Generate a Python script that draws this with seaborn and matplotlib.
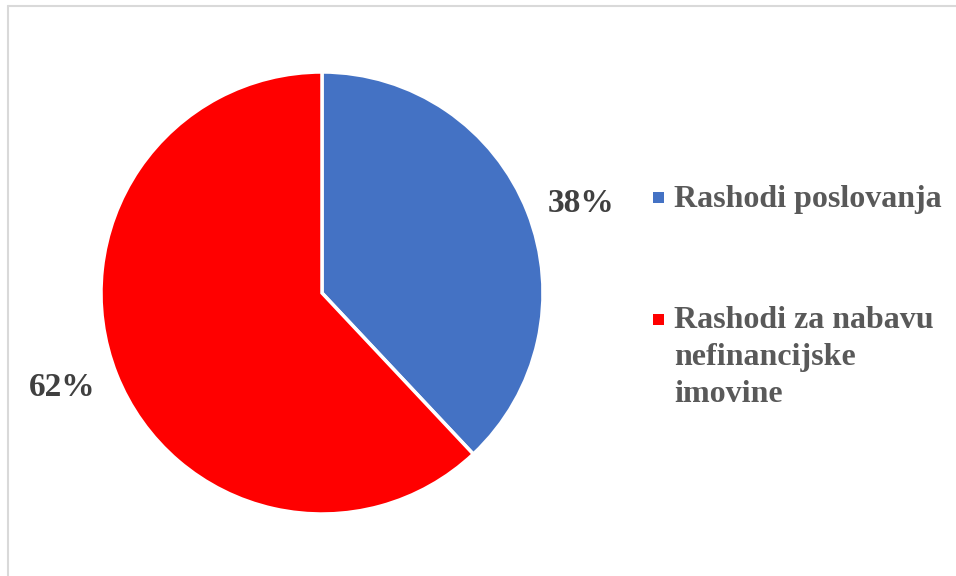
import matplotlib
matplotlib.use("Agg")
import matplotlib.pyplot as plt
from matplotlib.lines import Line2D
from matplotlib.patches import Rectangle
import seaborn as sns

# podaci
kategorije = ["Rashodi poslovanja", "Rashodi za nabavu\nnefinancijske\nimovine"]
udjeli = [38, 62]
boje = ["#4472C4", "#FF0000"]

sns.set_theme(style="white")
plt.rcParams["font.family"] = ["Liberation Serif", "DejaVu Serif"]

W, H = 956, 576
fig = plt.figure(figsize=(W / 100, H / 100), dpi=100)

# pie centred at (322, 293) px, radius 221 px
cx, cy, r = 322, 293, 221
ax = fig.add_axes([(cx - r) / W, (H - cy - r) / H, 2 * r / W, 2 * r / H])
wedges, _, pct = ax.pie(
    udjeli,
    colors=boje,
    startangle=90,
    counterclock=False,
    autopct="%1.0f%%",
    pctdistance=1.24,
    wedgeprops=dict(edgecolor="white", linewidth=2.5),
    textprops=dict(fontsize=24, fontweight="bold", color="#404040"),
)
# Excel "best fit" polozaj oznaka
pct[0].set_position(((581 - cx) / r, (cy - 203) / r))
pct[1].set_position(((62 - cx) / r, (cy - 387) / r))
ax.set_xlim(-1, 1)
ax.set_ylim(-1, 1)
ax.set_aspect("equal")
ax.axis("off")

# legenda (rucno, da marker stoji uz prvi red)
leg_y = [197.5, 319]
for naziv, boja, y in zip(kategorije, boje, leg_y):
    fig.add_artist(Rectangle(((658.5 - 5.5) / W, (H - y - 5.5) / H), 11 / W, 11 / H,
                             transform=fig.transFigure, facecolor=boja, edgecolor="none"))
    for i, red in enumerate(naziv.split("\n")):
        base = y + 9 + i * 37
        fig.text(674 / W, (H - base) / H, red, fontsize=23, fontweight="bold",
                 color="#595959", va="baseline", ha="left")

# okvir grafikona
fig.add_artist(Line2D([7.5 / W, 1], [1 - 5.5 / H, 1 - 5.5 / H], transform=fig.transFigure,
                      color="#D9D9D9", linewidth=1.5))
fig.add_artist(Line2D([7.5 / W, 7.5 / W], [0, 1 - 5.5 / H], transform=fig.transFigure,
                      color="#D9D9D9", linewidth=1.5))

fig.savefig("out.png", dpi=100, facecolor="white")
